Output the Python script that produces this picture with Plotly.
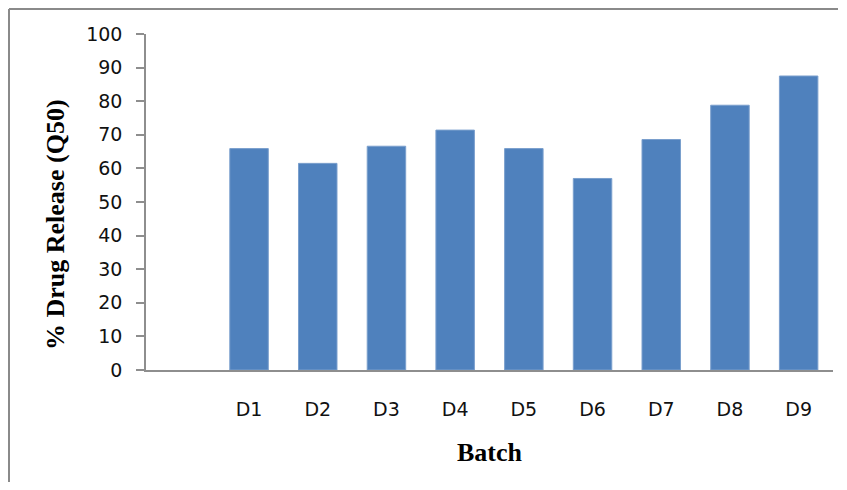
import plotly.graph_objects as go

batches = ["D1", "D2", "D3", "D4", "D5", "D6", "D7", "D8", "D9"]
q50_release = [65.9, 61.5, 66.6, 71.4, 65.9, 57.0, 68.6, 78.8, 87.5]
y_ticks = [0, 10, 20, 30, 40, 50, 60, 70, 80, 90, 100]

# The page body has an 8px margin on every side; keep the figure inside the window
OFF = 8
W, H = 847 - 2 * OFF, 490 - 2 * OFF
L, R, T = 146 - OFF, 839 - 833, 34 - OFF
B = H - T - 336
pw, ph = W - L - R, H - T - B

def px_x(p):
    return (p - OFF - L) / pw

def px_y(p):
    return (H - B - (p - OFF)) / ph

fig = go.Figure()
fig.add_trace(go.Bar(
    x=batches, y=q50_release,
    marker=dict(color="#4F81BD", line=dict(color="#7A9FCD", width=1)),
    width=0.56,
))

axis_font = dict(family="DejaVu Sans", size=19, color="#111111")
border = dict(color="#8A8A8A", width=2)
fig.update_layout(
    width=W, height=H,
    margin=dict(l=L, r=R, t=T, b=B),
    paper_bgcolor="white", plot_bgcolor="white",
    showlegend=False,
    xaxis=dict(
        type="category", range=[-1.5, 8.5],
        showgrid=False, zeroline=False,
        showline=True, linecolor="#8E8E8E", linewidth=1.5,
        ticks="", tickfont=axis_font, ticklabelstandoff=21,
    ),
    yaxis=dict(
        range=[0, 100], tickvals=y_ticks,
        showgrid=False, zeroline=False,
        showline=True, linecolor="#8E8E8E", linewidth=1.5,
        ticks="outside", ticklen=8, tickcolor="#8E8E8E", tickwidth=1.5,
        tickfont=axis_font, ticklabelstandoff=10,
    ),
    annotations=[
        dict(text="<b>% Drug Release (Q50)</b>", xref="paper", yref="paper",
             x=px_x(55), y=px_y(224), textangle=-90, showarrow=False,
             xanchor="center", yanchor="middle",
             font=dict(family="Liberation Serif", size=26, color="black")),
        dict(text="<b>Batch</b>", xref="paper", yref="paper",
             x=px_x(490), y=px_y(452), showarrow=False,
             xanchor="center", yanchor="middle",
             font=dict(family="Liberation Serif", size=26, color="black")),
    ],
    shapes=[
        dict(type="line", xref="paper", yref="paper",
             x0=px_x(9), x1=px_x(8 + W - 1), y0=px_y(9), y1=px_y(9),
             line=border, layer="below"),
        dict(type="line", xref="paper", yref="paper",
             x0=px_x(9), x1=px_x(9), y0=px_y(9), y1=px_y(8 + H),
             line=border, layer="below"),
    ],
)

fig.write_html("out.html")
